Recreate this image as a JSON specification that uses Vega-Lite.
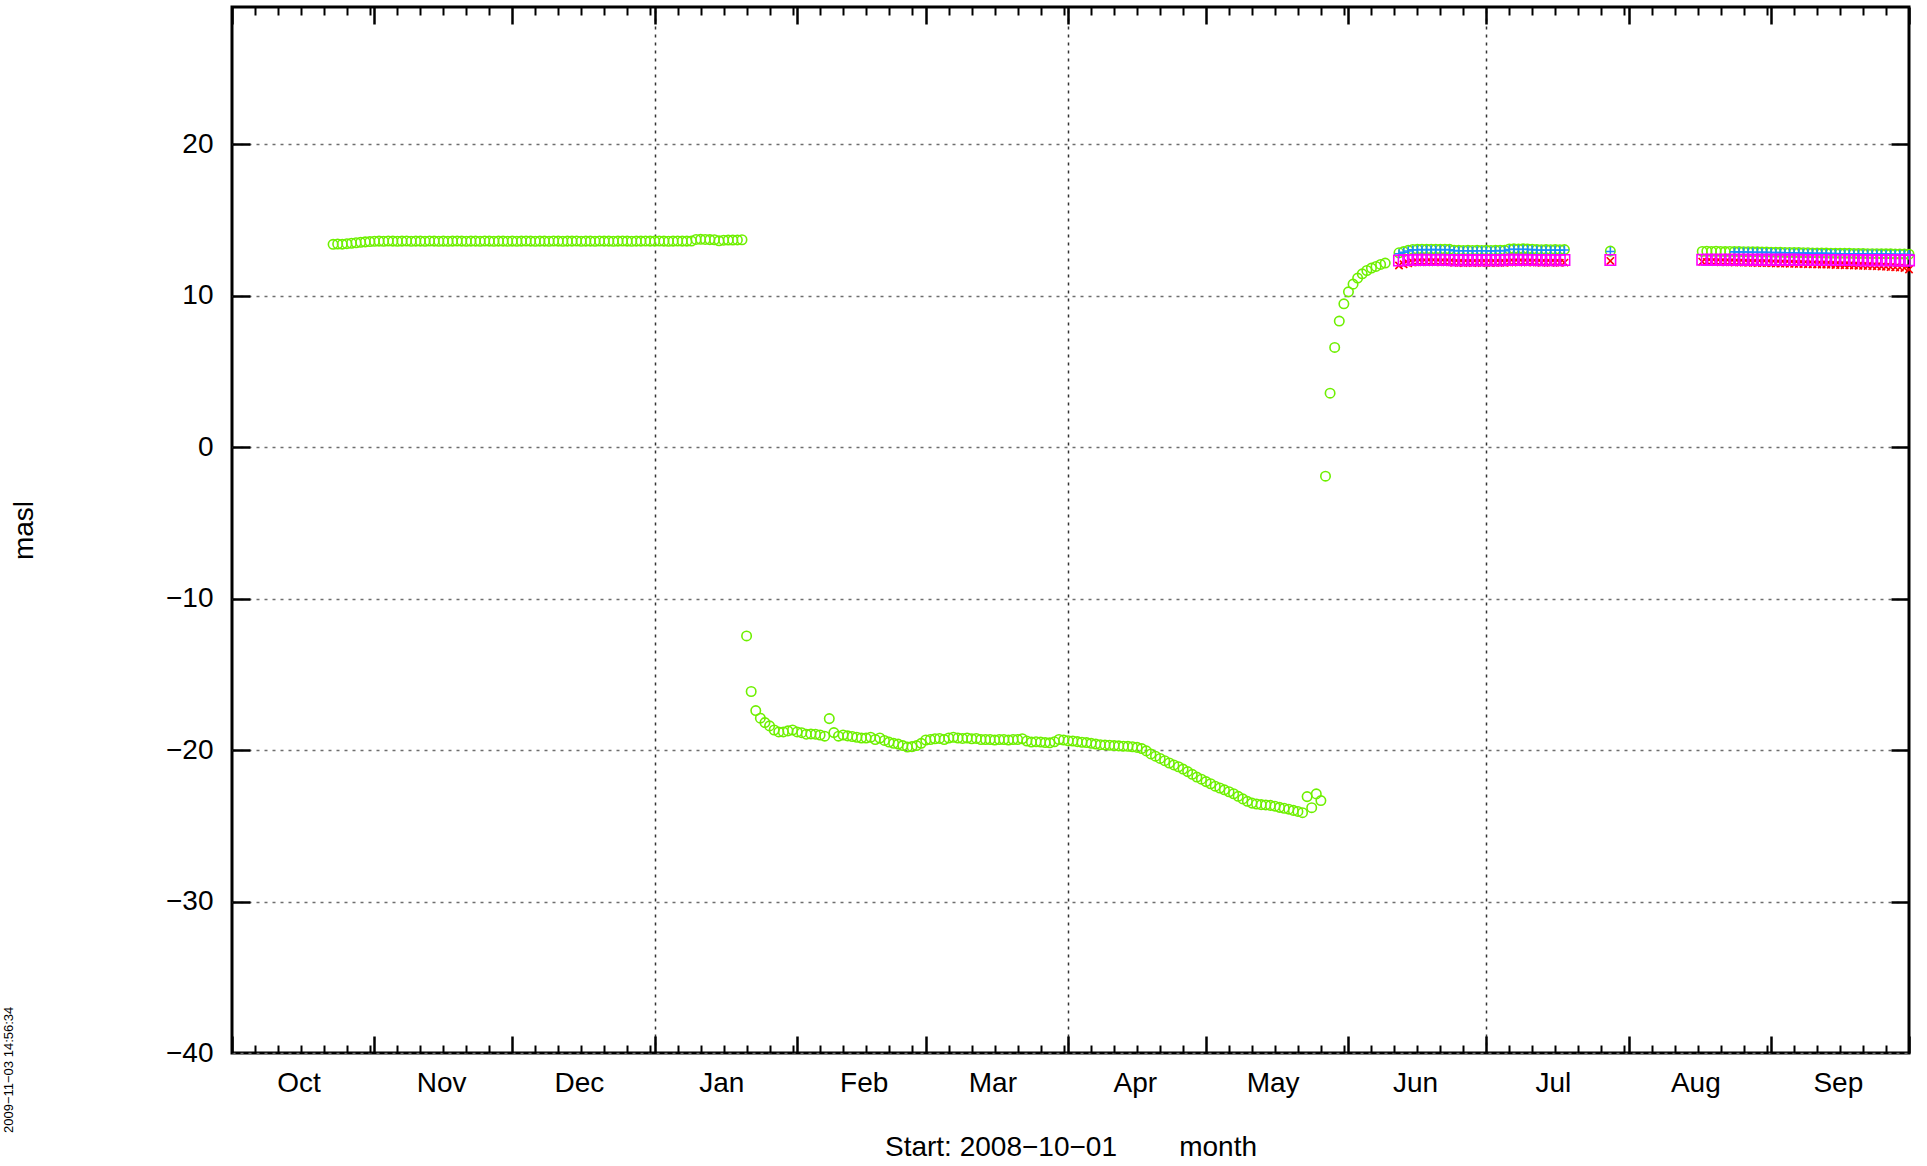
{
"$schema": "https://vega.github.io/schema/vega-lite/v6.json",
"width": 1677,
"height": 1046,
"autosize": {"type": "none"},
"padding": {"left": 232, "top": 7, "right": 18, "bottom": 113},
"background": "white",
"config": {
  "view": {"stroke": "black", "strokeWidth": 3},
  "font": "Liberation Sans",
  "axis": {"labelFont": "Liberation Sans", "titleFont": "Liberation Sans", "labelColor": "black", "titleColor": "black", "tickColor": "black", "labelFontSize": 28, "titleFontSize": 28, "titleFontWeight": "normal", "domain": false}
},
"title": {"text": "2009−11−03 14:56:34", "orient": "left", "anchor": "start", "frame": "group", "fontSize": 13, "fontWeight": "normal", "font": "Liberation Sans", "color": "black", "offset": -5, "dx": -80},
"data": {"values": [
{"d":"2008-10-23","s":"A","v":13.40},{"d":"2008-10-24","s":"A","v":13.42},{"d":"2008-10-25","s":"A","v":13.41},{"d":"2008-10-26","s":"A","v":13.44},{"d":"2008-10-27","s":"A","v":13.47},{"d":"2008-10-28","s":"A","v":13.50},{"d":"2008-10-29","s":"A","v":13.53},{"d":"2008-10-30","s":"A","v":13.56},{"d":"2008-10-31","s":"A","v":13.58},
{"d":"2008-11-01","s":"A","v":13.60},{"d":"2008-11-02","s":"A","v":13.61},{"d":"2008-11-03","s":"A","v":13.60},{"d":"2008-11-04","s":"A","v":13.62},{"d":"2008-11-05","s":"A","v":13.61},{"d":"2008-11-06","s":"A","v":13.60},{"d":"2008-11-07","s":"A","v":13.61},{"d":"2008-11-08","s":"A","v":13.62},{"d":"2008-11-09","s":"A","v":13.60},{"d":"2008-11-10","s":"A","v":13.61},
{"d":"2008-11-11","s":"A","v":13.61},{"d":"2008-11-12","s":"A","v":13.60},{"d":"2008-11-13","s":"A","v":13.62},{"d":"2008-11-14","s":"A","v":13.61},{"d":"2008-11-15","s":"A","v":13.60},{"d":"2008-11-16","s":"A","v":13.61},{"d":"2008-11-17","s":"A","v":13.60},{"d":"2008-11-18","s":"A","v":13.61},{"d":"2008-11-19","s":"A","v":13.62},{"d":"2008-11-20","s":"A","v":13.61},
{"d":"2008-11-21","s":"A","v":13.60},{"d":"2008-11-22","s":"A","v":13.61},{"d":"2008-11-23","s":"A","v":13.61},{"d":"2008-11-24","s":"A","v":13.60},{"d":"2008-11-25","s":"A","v":13.62},{"d":"2008-11-26","s":"A","v":13.61},{"d":"2008-11-27","s":"A","v":13.60},{"d":"2008-11-28","s":"A","v":13.61},{"d":"2008-11-29","s":"A","v":13.61},{"d":"2008-11-30","s":"A","v":13.60},
{"d":"2008-12-01","s":"A","v":13.61},{"d":"2008-12-02","s":"A","v":13.60},{"d":"2008-12-03","s":"A","v":13.61},{"d":"2008-12-04","s":"A","v":13.62},{"d":"2008-12-05","s":"A","v":13.61},{"d":"2008-12-06","s":"A","v":13.60},{"d":"2008-12-07","s":"A","v":13.61},{"d":"2008-12-08","s":"A","v":13.61},{"d":"2008-12-09","s":"A","v":13.60},{"d":"2008-12-10","s":"A","v":13.62},
{"d":"2008-12-11","s":"A","v":13.61},{"d":"2008-12-12","s":"A","v":13.60},{"d":"2008-12-13","s":"A","v":13.61},{"d":"2008-12-14","s":"A","v":13.61},{"d":"2008-12-15","s":"A","v":13.62},{"d":"2008-12-16","s":"A","v":13.60},{"d":"2008-12-17","s":"A","v":13.61},{"d":"2008-12-18","s":"A","v":13.61},{"d":"2008-12-19","s":"A","v":13.60},{"d":"2008-12-20","s":"A","v":13.62},
{"d":"2008-12-21","s":"A","v":13.61},{"d":"2008-12-22","s":"A","v":13.61},{"d":"2008-12-23","s":"A","v":13.60},{"d":"2008-12-24","s":"A","v":13.61},{"d":"2008-12-25","s":"A","v":13.62},{"d":"2008-12-26","s":"A","v":13.61},{"d":"2008-12-27","s":"A","v":13.60},{"d":"2008-12-28","s":"A","v":13.61},{"d":"2008-12-29","s":"A","v":13.61},{"d":"2008-12-30","s":"A","v":13.62},{"d":"2008-12-31","s":"A","v":13.61},
{"d":"2009-01-01","s":"A","v":13.61},{"d":"2009-01-02","s":"A","v":13.62},{"d":"2009-01-03","s":"A","v":13.61},{"d":"2009-01-04","s":"A","v":13.60},{"d":"2009-01-05","s":"A","v":13.61},{"d":"2009-01-06","s":"A","v":13.62},{"d":"2009-01-07","s":"A","v":13.61},{"d":"2009-01-08","s":"A","v":13.61},{"d":"2009-01-09","s":"A","v":13.62},
{"d":"2009-01-10","s":"A","v":13.72},{"d":"2009-01-11","s":"A","v":13.73},{"d":"2009-01-12","s":"A","v":13.72},{"d":"2009-01-13","s":"A","v":13.71},{"d":"2009-01-14","s":"A","v":13.70},{"d":"2009-01-15","s":"A","v":13.63},{"d":"2009-01-16","s":"A","v":13.67},{"d":"2009-01-17","s":"A","v":13.68},{"d":"2009-01-18","s":"A","v":13.68},{"d":"2009-01-19","s":"A","v":13.69},{"d":"2009-01-20","s":"A","v":13.70},
{"d":"2009-01-21","s":"A","v":-12.46},{"d":"2009-01-22","s":"A","v":-16.13},{"d":"2009-01-23","s":"A","v":-17.39},{"d":"2009-01-24","s":"A","v":-17.89},{"d":"2009-01-25","s":"A","v":-18.18},{"d":"2009-01-26","s":"A","v":-18.40},{"d":"2009-01-27","s":"A","v":-18.67},{"d":"2009-01-28","s":"A","v":-18.80},{"d":"2009-01-29","s":"A","v":-18.80},{"d":"2009-01-30","s":"A","v":-18.73},{"d":"2009-01-31","s":"A","v":-18.67},
{"d":"2009-02-01","s":"A","v":-18.80},{"d":"2009-02-02","s":"A","v":-18.85},{"d":"2009-02-03","s":"A","v":-18.95},{"d":"2009-02-04","s":"A","v":-18.93},{"d":"2009-02-05","s":"A","v":-18.95},{"d":"2009-02-06","s":"A","v":-19.00},{"d":"2009-02-07","s":"A","v":-19.08},{"d":"2009-02-08","s":"A","v":-17.92},{"d":"2009-02-09","s":"A","v":-18.84},{"d":"2009-02-10","s":"A","v":-19.08},
{"d":"2009-02-11","s":"A","v":-19.00},{"d":"2009-02-12","s":"A","v":-19.06},{"d":"2009-02-13","s":"A","v":-19.10},{"d":"2009-02-14","s":"A","v":-19.15},{"d":"2009-02-15","s":"A","v":-19.20},{"d":"2009-02-16","s":"A","v":-19.20},{"d":"2009-02-17","s":"A","v":-19.15},{"d":"2009-02-18","s":"A","v":-19.30},{"d":"2009-02-19","s":"A","v":-19.20},{"d":"2009-02-20","s":"A","v":-19.36},
{"d":"2009-02-21","s":"A","v":-19.47},{"d":"2009-02-22","s":"A","v":-19.55},{"d":"2009-02-23","s":"A","v":-19.60},{"d":"2009-02-24","s":"A","v":-19.70},{"d":"2009-02-25","s":"A","v":-19.80},{"d":"2009-02-26","s":"A","v":-19.77},{"d":"2009-02-27","s":"A","v":-19.70},{"d":"2009-02-28","s":"A","v":-19.55},
{"d":"2009-03-01","s":"A","v":-19.33},{"d":"2009-03-02","s":"A","v":-19.30},{"d":"2009-03-03","s":"A","v":-19.25},{"d":"2009-03-04","s":"A","v":-19.23},{"d":"2009-03-05","s":"A","v":-19.30},{"d":"2009-03-06","s":"A","v":-19.20},{"d":"2009-03-07","s":"A","v":-19.15},{"d":"2009-03-08","s":"A","v":-19.20},{"d":"2009-03-09","s":"A","v":-19.23},{"d":"2009-03-10","s":"A","v":-19.20},
{"d":"2009-03-11","s":"A","v":-19.25},{"d":"2009-03-12","s":"A","v":-19.23},{"d":"2009-03-13","s":"A","v":-19.30},{"d":"2009-03-14","s":"A","v":-19.30},{"d":"2009-03-15","s":"A","v":-19.30},{"d":"2009-03-16","s":"A","v":-19.33},{"d":"2009-03-17","s":"A","v":-19.30},{"d":"2009-03-18","s":"A","v":-19.30},{"d":"2009-03-19","s":"A","v":-19.33},{"d":"2009-03-20","s":"A","v":-19.30},
{"d":"2009-03-21","s":"A","v":-19.30},{"d":"2009-03-22","s":"A","v":-19.25},{"d":"2009-03-23","s":"A","v":-19.40},{"d":"2009-03-24","s":"A","v":-19.47},{"d":"2009-03-25","s":"A","v":-19.45},{"d":"2009-03-26","s":"A","v":-19.47},{"d":"2009-03-27","s":"A","v":-19.50},{"d":"2009-03-28","s":"A","v":-19.52},{"d":"2009-03-29","s":"A","v":-19.45},{"d":"2009-03-30","s":"A","v":-19.30},{"d":"2009-03-31","s":"A","v":-19.33},
{"d":"2009-04-01","s":"A","v":-19.38},{"d":"2009-04-02","s":"A","v":-19.40},{"d":"2009-04-03","s":"A","v":-19.44},{"d":"2009-04-04","s":"A","v":-19.48},{"d":"2009-04-05","s":"A","v":-19.50},{"d":"2009-04-06","s":"A","v":-19.55},{"d":"2009-04-07","s":"A","v":-19.60},{"d":"2009-04-08","s":"A","v":-19.64},{"d":"2009-04-09","s":"A","v":-19.66},{"d":"2009-04-10","s":"A","v":-19.68},
{"d":"2009-04-11","s":"A","v":-19.70},{"d":"2009-04-12","s":"A","v":-19.72},{"d":"2009-04-13","s":"A","v":-19.74},{"d":"2009-04-14","s":"A","v":-19.75},{"d":"2009-04-15","s":"A","v":-19.78},{"d":"2009-04-16","s":"A","v":-19.82},{"d":"2009-04-17","s":"A","v":-19.90},{"d":"2009-04-18","s":"A","v":-20.05},{"d":"2009-04-19","s":"A","v":-20.25},{"d":"2009-04-20","s":"A","v":-20.40},
{"d":"2009-04-21","s":"A","v":-20.55},{"d":"2009-04-22","s":"A","v":-20.70},{"d":"2009-04-23","s":"A","v":-20.85},{"d":"2009-04-24","s":"A","v":-20.98},{"d":"2009-04-25","s":"A","v":-21.10},{"d":"2009-04-26","s":"A","v":-21.25},{"d":"2009-04-27","s":"A","v":-21.42},{"d":"2009-04-28","s":"A","v":-21.60},{"d":"2009-04-29","s":"A","v":-21.78},{"d":"2009-04-30","s":"A","v":-21.92},
{"d":"2009-05-01","s":"A","v":-22.08},{"d":"2009-05-02","s":"A","v":-22.22},{"d":"2009-05-03","s":"A","v":-22.38},{"d":"2009-05-04","s":"A","v":-22.50},{"d":"2009-05-05","s":"A","v":-22.62},{"d":"2009-05-06","s":"A","v":-22.75},{"d":"2009-05-07","s":"A","v":-22.88},{"d":"2009-05-08","s":"A","v":-23.05},{"d":"2009-05-09","s":"A","v":-23.22},{"d":"2009-05-10","s":"A","v":-23.38},
{"d":"2009-05-11","s":"A","v":-23.50},{"d":"2009-05-12","s":"A","v":-23.56},{"d":"2009-05-13","s":"A","v":-23.60},{"d":"2009-05-14","s":"A","v":-23.62},{"d":"2009-05-15","s":"A","v":-23.65},{"d":"2009-05-16","s":"A","v":-23.70},{"d":"2009-05-17","s":"A","v":-23.78},{"d":"2009-05-18","s":"A","v":-23.84},{"d":"2009-05-19","s":"A","v":-23.90},{"d":"2009-05-20","s":"A","v":-23.98},
{"d":"2009-05-21","s":"A","v":-24.05},{"d":"2009-05-22","s":"A","v":-24.13},{"d":"2009-05-23","s":"A","v":-23.07},{"d":"2009-05-24","s":"A","v":-23.80},{"d":"2009-05-25","s":"A","v":-22.89},{"d":"2009-05-26","s":"A","v":-23.33},{"d":"2009-05-27","s":"A","v":-1.91},{"d":"2009-05-28","s":"A","v":3.57},{"d":"2009-05-29","s":"A","v":6.59},{"d":"2009-05-30","s":"A","v":8.33},{"d":"2009-05-31","s":"A","v":9.47},
{"d":"2009-06-01","s":"A","v":10.26},{"d":"2009-06-02","s":"A","v":10.77},{"d":"2009-06-03","s":"A","v":11.17},{"d":"2009-06-04","s":"A","v":11.45},{"d":"2009-06-05","s":"A","v":11.67},{"d":"2009-06-06","s":"A","v":11.83},{"d":"2009-06-07","s":"A","v":11.94},{"d":"2009-06-08","s":"A","v":12.07},{"d":"2009-06-09","s":"A","v":12.16},
{"d":"2009-06-12","s":"A","v":12.84},{"d":"2009-06-13","s":"A","v":12.92},{"d":"2009-06-14","s":"A","v":13.00},{"d":"2009-06-15","s":"A","v":13.06},{"d":"2009-06-16","s":"A","v":13.07},{"d":"2009-06-17","s":"A","v":13.08},{"d":"2009-06-18","s":"A","v":13.07},{"d":"2009-06-19","s":"A","v":13.08},{"d":"2009-06-20","s":"A","v":13.08},{"d":"2009-06-21","s":"A","v":13.07},
{"d":"2009-06-22","s":"A","v":13.08},{"d":"2009-06-23","s":"A","v":13.07},{"d":"2009-06-24","s":"A","v":13.01},{"d":"2009-06-25","s":"A","v":13.00},{"d":"2009-06-26","s":"A","v":12.99},{"d":"2009-06-27","s":"A","v":13.00},{"d":"2009-06-28","s":"A","v":12.99},{"d":"2009-06-29","s":"A","v":13.00},{"d":"2009-06-30","s":"A","v":12.99},
{"d":"2009-07-01","s":"A","v":13.00},{"d":"2009-07-02","s":"A","v":12.99},{"d":"2009-07-03","s":"A","v":13.00},{"d":"2009-07-04","s":"A","v":13.01},{"d":"2009-07-05","s":"A","v":13.00},{"d":"2009-07-06","s":"A","v":13.09},{"d":"2009-07-07","s":"A","v":13.10},{"d":"2009-07-08","s":"A","v":13.09},{"d":"2009-07-09","s":"A","v":13.10},{"d":"2009-07-10","s":"A","v":13.09},
{"d":"2009-07-11","s":"A","v":13.08},{"d":"2009-07-12","s":"A","v":13.05},{"d":"2009-07-13","s":"A","v":13.04},{"d":"2009-07-14","s":"A","v":13.05},{"d":"2009-07-15","s":"A","v":13.04},{"d":"2009-07-16","s":"A","v":13.05},{"d":"2009-07-17","s":"A","v":13.04},{"d":"2009-07-18","s":"A","v":13.05},
{"d":"2009-07-28","s":"A","v":12.95},
{"d":"2009-08-17","s":"A","v":12.93},{"d":"2009-08-18","s":"A","v":12.94},{"d":"2009-08-19","s":"A","v":12.93},{"d":"2009-08-20","s":"A","v":12.94},{"d":"2009-08-21","s":"A","v":12.93},{"d":"2009-08-22","s":"A","v":12.92},{"d":"2009-08-23","s":"A","v":12.93},{"d":"2009-08-24","s":"A","v":12.92},{"d":"2009-08-25","s":"A","v":12.92},{"d":"2009-08-26","s":"A","v":12.91},
{"d":"2009-08-27","s":"A","v":12.91},{"d":"2009-08-28","s":"A","v":12.90},{"d":"2009-08-29","s":"A","v":12.90},{"d":"2009-08-30","s":"A","v":12.89},{"d":"2009-08-31","s":"A","v":12.89},
{"d":"2009-09-01","s":"A","v":12.88},{"d":"2009-09-02","s":"A","v":12.87},{"d":"2009-09-03","s":"A","v":12.87},{"d":"2009-09-04","s":"A","v":12.86},{"d":"2009-09-05","s":"A","v":12.86},{"d":"2009-09-06","s":"A","v":12.85},{"d":"2009-09-07","s":"A","v":12.85},{"d":"2009-09-08","s":"A","v":12.84},{"d":"2009-09-09","s":"A","v":12.84},{"d":"2009-09-10","s":"A","v":12.83},
{"d":"2009-09-11","s":"A","v":12.83},{"d":"2009-09-12","s":"A","v":12.82},{"d":"2009-09-13","s":"A","v":12.82},{"d":"2009-09-14","s":"A","v":12.81},{"d":"2009-09-15","s":"A","v":12.81},{"d":"2009-09-16","s":"A","v":12.80},{"d":"2009-09-17","s":"A","v":12.80},{"d":"2009-09-18","s":"A","v":12.80},{"d":"2009-09-19","s":"A","v":12.79},{"d":"2009-09-20","s":"A","v":12.79},
{"d":"2009-09-21","s":"A","v":12.79},{"d":"2009-09-22","s":"A","v":12.78},{"d":"2009-09-23","s":"A","v":12.78},{"d":"2009-09-24","s":"A","v":12.78},{"d":"2009-09-25","s":"A","v":12.77},{"d":"2009-09-26","s":"A","v":12.77},{"d":"2009-09-27","s":"A","v":12.77},{"d":"2009-09-28","s":"A","v":12.76},{"d":"2009-09-29","s":"A","v":12.76},{"d":"2009-09-30","s":"A","v":12.76},{"d":"2009-10-01","s":"A","v":12.75},
{"d":"2009-06-12","s":"B","v":12.78},{"d":"2009-06-13","s":"B","v":12.88},{"d":"2009-06-14","s":"B","v":12.96},{"d":"2009-06-15","s":"B","v":13.03},{"d":"2009-06-16","s":"B","v":13.04},{"d":"2009-06-17","s":"B","v":13.05},{"d":"2009-06-18","s":"B","v":13.04},{"d":"2009-06-19","s":"B","v":13.05},{"d":"2009-06-20","s":"B","v":13.05},{"d":"2009-06-21","s":"B","v":13.04},
{"d":"2009-06-22","s":"B","v":13.05},{"d":"2009-06-23","s":"B","v":13.04},{"d":"2009-06-24","s":"B","v":12.98},{"d":"2009-06-25","s":"B","v":12.97},{"d":"2009-06-26","s":"B","v":12.97},{"d":"2009-06-27","s":"B","v":12.97},{"d":"2009-06-28","s":"B","v":12.96},{"d":"2009-06-29","s":"B","v":12.97},{"d":"2009-06-30","s":"B","v":12.97},
{"d":"2009-07-01","s":"B","v":12.97},{"d":"2009-07-02","s":"B","v":12.96},{"d":"2009-07-03","s":"B","v":12.97},{"d":"2009-07-04","s":"B","v":12.98},{"d":"2009-07-05","s":"B","v":12.97},{"d":"2009-07-06","s":"B","v":13.06},{"d":"2009-07-07","s":"B","v":13.07},{"d":"2009-07-08","s":"B","v":13.06},{"d":"2009-07-09","s":"B","v":13.07},{"d":"2009-07-10","s":"B","v":13.06},
{"d":"2009-07-11","s":"B","v":13.05},{"d":"2009-07-12","s":"B","v":13.02},{"d":"2009-07-13","s":"B","v":13.01},{"d":"2009-07-14","s":"B","v":13.02},{"d":"2009-07-15","s":"B","v":13.01},{"d":"2009-07-16","s":"B","v":13.02},{"d":"2009-07-17","s":"B","v":13.01},{"d":"2009-07-18","s":"B","v":13.02},
{"d":"2009-07-28","s":"B","v":12.93},
{"d":"2009-08-24","s":"B","v":12.90},{"d":"2009-08-25","s":"B","v":12.90},{"d":"2009-08-26","s":"B","v":12.89},{"d":"2009-08-27","s":"B","v":12.89},{"d":"2009-08-28","s":"B","v":12.88},{"d":"2009-08-29","s":"B","v":12.88},{"d":"2009-08-30","s":"B","v":12.87},{"d":"2009-08-31","s":"B","v":12.87},
{"d":"2009-09-01","s":"B","v":12.86},{"d":"2009-09-02","s":"B","v":12.85},{"d":"2009-09-03","s":"B","v":12.85},{"d":"2009-09-04","s":"B","v":12.84},{"d":"2009-09-05","s":"B","v":12.84},{"d":"2009-09-06","s":"B","v":12.83},{"d":"2009-09-07","s":"B","v":12.83},{"d":"2009-09-08","s":"B","v":12.82},{"d":"2009-09-09","s":"B","v":12.82},{"d":"2009-09-10","s":"B","v":12.81},
{"d":"2009-09-11","s":"B","v":12.81},{"d":"2009-09-12","s":"B","v":12.80},{"d":"2009-09-13","s":"B","v":12.80},{"d":"2009-09-14","s":"B","v":12.79},{"d":"2009-09-15","s":"B","v":12.79},{"d":"2009-09-16","s":"B","v":12.78},{"d":"2009-09-17","s":"B","v":12.78},{"d":"2009-09-18","s":"B","v":12.78},{"d":"2009-09-19","s":"B","v":12.77},{"d":"2009-09-20","s":"B","v":12.77},
{"d":"2009-09-21","s":"B","v":12.77},{"d":"2009-09-22","s":"B","v":12.76},{"d":"2009-09-23","s":"B","v":12.76},{"d":"2009-09-24","s":"B","v":12.76},{"d":"2009-09-25","s":"B","v":12.75},{"d":"2009-09-26","s":"B","v":12.75},{"d":"2009-09-27","s":"B","v":12.75},{"d":"2009-09-28","s":"B","v":12.74},{"d":"2009-09-29","s":"B","v":12.74},{"d":"2009-09-30","s":"B","v":12.74},{"d":"2009-10-01","s":"B","v":12.73},
{"d":"2009-06-12","s":"C","v":12.00},{"d":"2009-06-13","s":"C","v":12.08},{"d":"2009-06-14","s":"C","v":12.15},{"d":"2009-06-15","s":"C","v":12.20},{"d":"2009-06-16","s":"C","v":12.22},{"d":"2009-06-17","s":"C","v":12.21},{"d":"2009-06-18","s":"C","v":12.22},{"d":"2009-06-19","s":"C","v":12.23},{"d":"2009-06-20","s":"C","v":12.22},{"d":"2009-06-21","s":"C","v":12.21},
{"d":"2009-06-22","s":"C","v":12.22},{"d":"2009-06-23","s":"C","v":12.21},{"d":"2009-06-24","s":"C","v":12.18},{"d":"2009-06-25","s":"C","v":12.18},{"d":"2009-06-26","s":"C","v":12.17},{"d":"2009-06-27","s":"C","v":12.18},{"d":"2009-06-28","s":"C","v":12.17},{"d":"2009-06-29","s":"C","v":12.18},{"d":"2009-06-30","s":"C","v":12.17},
{"d":"2009-07-01","s":"C","v":12.18},{"d":"2009-07-02","s":"C","v":12.17},{"d":"2009-07-03","s":"C","v":12.18},{"d":"2009-07-04","s":"C","v":12.18},{"d":"2009-07-05","s":"C","v":12.18},{"d":"2009-07-06","s":"C","v":12.20},{"d":"2009-07-07","s":"C","v":12.21},{"d":"2009-07-08","s":"C","v":12.20},{"d":"2009-07-09","s":"C","v":12.21},{"d":"2009-07-10","s":"C","v":12.20},
{"d":"2009-07-11","s":"C","v":12.20},{"d":"2009-07-12","s":"C","v":12.19},{"d":"2009-07-13","s":"C","v":12.18},{"d":"2009-07-14","s":"C","v":12.19},{"d":"2009-07-15","s":"C","v":12.18},{"d":"2009-07-16","s":"C","v":12.19},{"d":"2009-07-17","s":"C","v":12.18},{"d":"2009-07-18","s":"C","v":12.19},
{"d":"2009-07-28","s":"C","v":12.30},
{"d":"2009-08-17","s":"C","v":12.25},{"d":"2009-08-18","s":"C","v":12.24},{"d":"2009-08-19","s":"C","v":12.24},{"d":"2009-08-20","s":"C","v":12.23},{"d":"2009-08-21","s":"C","v":12.22},{"d":"2009-08-22","s":"C","v":12.22},{"d":"2009-08-23","s":"C","v":12.21},{"d":"2009-08-24","s":"C","v":12.20},{"d":"2009-08-25","s":"C","v":12.20},{"d":"2009-08-26","s":"C","v":12.19},
{"d":"2009-08-27","s":"C","v":12.18},{"d":"2009-08-28","s":"C","v":12.18},{"d":"2009-08-29","s":"C","v":12.17},{"d":"2009-08-30","s":"C","v":12.16},{"d":"2009-08-31","s":"C","v":12.16},
{"d":"2009-09-01","s":"C","v":12.15},{"d":"2009-09-02","s":"C","v":12.14},{"d":"2009-09-03","s":"C","v":12.13},{"d":"2009-09-04","s":"C","v":12.13},{"d":"2009-09-05","s":"C","v":12.12},{"d":"2009-09-06","s":"C","v":12.11},{"d":"2009-09-07","s":"C","v":12.10},{"d":"2009-09-08","s":"C","v":12.10},{"d":"2009-09-09","s":"C","v":12.09},{"d":"2009-09-10","s":"C","v":12.08},
{"d":"2009-09-11","s":"C","v":12.07},{"d":"2009-09-12","s":"C","v":12.06},{"d":"2009-09-13","s":"C","v":12.06},{"d":"2009-09-14","s":"C","v":12.05},{"d":"2009-09-15","s":"C","v":12.04},{"d":"2009-09-16","s":"C","v":12.03},{"d":"2009-09-17","s":"C","v":12.02},{"d":"2009-09-18","s":"C","v":12.01},{"d":"2009-09-19","s":"C","v":12.00},{"d":"2009-09-20","s":"C","v":11.99},
{"d":"2009-09-21","s":"C","v":11.98},{"d":"2009-09-22","s":"C","v":11.97},{"d":"2009-09-23","s":"C","v":11.96},{"d":"2009-09-24","s":"C","v":11.95},{"d":"2009-09-25","s":"C","v":11.93},{"d":"2009-09-26","s":"C","v":11.92},{"d":"2009-09-27","s":"C","v":11.90},{"d":"2009-09-28","s":"C","v":11.88},{"d":"2009-09-29","s":"C","v":11.86},{"d":"2009-09-30","s":"C","v":11.84},{"d":"2009-10-01","s":"C","v":11.74},
{"d":"2009-06-12","s":"D","v":12.33},{"d":"2009-06-13","s":"D","v":12.35},{"d":"2009-06-14","s":"D","v":12.36},{"d":"2009-06-15","s":"D","v":12.36},{"d":"2009-06-16","s":"D","v":12.37},{"d":"2009-06-17","s":"D","v":12.36},{"d":"2009-06-18","s":"D","v":12.37},{"d":"2009-06-19","s":"D","v":12.36},{"d":"2009-06-20","s":"D","v":12.36},{"d":"2009-06-21","s":"D","v":12.37},
{"d":"2009-06-22","s":"D","v":12.36},{"d":"2009-06-23","s":"D","v":12.36},{"d":"2009-06-24","s":"D","v":12.35},{"d":"2009-06-25","s":"D","v":12.35},{"d":"2009-06-26","s":"D","v":12.36},{"d":"2009-06-27","s":"D","v":12.35},{"d":"2009-06-28","s":"D","v":12.35},{"d":"2009-06-29","s":"D","v":12.36},{"d":"2009-06-30","s":"D","v":12.35},
{"d":"2009-07-01","s":"D","v":12.35},{"d":"2009-07-02","s":"D","v":12.36},{"d":"2009-07-03","s":"D","v":12.35},{"d":"2009-07-04","s":"D","v":12.35},{"d":"2009-07-05","s":"D","v":12.36},{"d":"2009-07-06","s":"D","v":12.37},{"d":"2009-07-07","s":"D","v":12.37},{"d":"2009-07-08","s":"D","v":12.36},{"d":"2009-07-09","s":"D","v":12.37},{"d":"2009-07-10","s":"D","v":12.36},
{"d":"2009-07-11","s":"D","v":12.36},{"d":"2009-07-12","s":"D","v":12.36},{"d":"2009-07-13","s":"D","v":12.35},{"d":"2009-07-14","s":"D","v":12.36},{"d":"2009-07-15","s":"D","v":12.35},{"d":"2009-07-16","s":"D","v":12.36},{"d":"2009-07-17","s":"D","v":12.35},{"d":"2009-07-18","s":"D","v":12.36},
{"d":"2009-07-28","s":"D","v":12.36},
{"d":"2009-08-17","s":"D","v":12.38},{"d":"2009-08-18","s":"D","v":12.38},{"d":"2009-08-19","s":"D","v":12.38},{"d":"2009-08-20","s":"D","v":12.38},{"d":"2009-08-21","s":"D","v":12.38},{"d":"2009-08-22","s":"D","v":12.38},{"d":"2009-08-23","s":"D","v":12.38},{"d":"2009-08-24","s":"D","v":12.38},{"d":"2009-08-25","s":"D","v":12.38},{"d":"2009-08-26","s":"D","v":12.38},
{"d":"2009-08-27","s":"D","v":12.37},{"d":"2009-08-28","s":"D","v":12.37},{"d":"2009-08-29","s":"D","v":12.37},{"d":"2009-08-30","s":"D","v":12.37},{"d":"2009-08-31","s":"D","v":12.37},
{"d":"2009-09-01","s":"D","v":12.37},{"d":"2009-09-02","s":"D","v":12.37},{"d":"2009-09-03","s":"D","v":12.37},{"d":"2009-09-04","s":"D","v":12.37},{"d":"2009-09-05","s":"D","v":12.37},{"d":"2009-09-06","s":"D","v":12.37},{"d":"2009-09-07","s":"D","v":12.37},{"d":"2009-09-08","s":"D","v":12.36},{"d":"2009-09-09","s":"D","v":12.36},{"d":"2009-09-10","s":"D","v":12.36},
{"d":"2009-09-11","s":"D","v":12.36},{"d":"2009-09-12","s":"D","v":12.36},{"d":"2009-09-13","s":"D","v":12.36},{"d":"2009-09-14","s":"D","v":12.36},{"d":"2009-09-15","s":"D","v":12.36},{"d":"2009-09-16","s":"D","v":12.36},{"d":"2009-09-17","s":"D","v":12.36},{"d":"2009-09-18","s":"D","v":12.36},{"d":"2009-09-19","s":"D","v":12.36},{"d":"2009-09-20","s":"D","v":12.35},
{"d":"2009-09-21","s":"D","v":12.35},{"d":"2009-09-22","s":"D","v":12.35},{"d":"2009-09-23","s":"D","v":12.35},{"d":"2009-09-24","s":"D","v":12.35},{"d":"2009-09-25","s":"D","v":12.35},{"d":"2009-09-26","s":"D","v":12.35},{"d":"2009-09-27","s":"D","v":12.35},{"d":"2009-09-28","s":"D","v":12.35},{"d":"2009-09-29","s":"D","v":12.34},{"d":"2009-09-30","s":"D","v":12.34},{"d":"2009-10-01","s":"D","v":12.34}
]},
"layer": [
  {
    "mark": {"type": "point", "filled": false, "strokeWidth": 1.6, "size": 110, "opacity": 1},
    "encoding": {
      "x": {"field": "d", "type": "temporal",
        "scale": {"type": "utc", "domain": [{"year": 2008, "month": 10, "date": 1, "utc": true}, {"year": 2009, "month": 10, "date": 1, "utc": true}]},
        "axis": {"orient": "bottom", "values": {"expr": "[utc(2008,9,15,12),utc(2008,10,15,12),utc(2008,11,15,12),utc(2009,0,15,12),utc(2009,1,15,12),utc(2009,2,15,12),utc(2009,3,15,12),utc(2009,4,15,12),utc(2009,5,15,12),utc(2009,6,15,12),utc(2009,7,15,12),utc(2009,8,15,12)]"},
          "labelExpr": "utcFormat(datum.value, '%b')", "ticks": false, "grid": false, "labelPadding": 16, "labelOverlap": false, "labelFlush": false,
          "title": "Start: 2008−10−01\u00a0\u00a0\u00a0\u00a0\u00a0\u00a0\u00a0\u00a0month", "titlePadding": 36}},
      "y": {"field": "v", "type": "quantitative",
        "scale": {"domain": [-40, 29.07], "nice": false, "zero": false},
        "axis": {"orient": "left", "values": [-40, -30, -20, -10, 0, 10, 20], "ticks": false, "grid": true, "gridColor": "#6e6e6e", "gridDash": [3, 5], "gridWidth": 1.5, "labelPadding": 19, "title": "masl", "titlePadding": 127}},
      "color": {"field": "s", "type": "nominal", "scale": {"domain": ["A", "B", "C", "D"], "range": ["#6ef000", "#1a8cff", "#ff0000", "#ff00ff"]}, "legend": null},
      "shape": {"field": "s", "type": "nominal", "scale": {"domain": ["A", "B", "C", "D"], "range": ["M-0.9,0A0.9,0.9,0,1,1,0.9,0A0.9,0.9,0,1,1,-0.9,0Z", "M-0.85,0H0.85M0,-0.85V0.85", "M-0.7,-0.7L0.7,0.7M-0.7,0.7L0.7,-0.7", "M-1,-1H1V1H-1Z"]}, "legend": null}
    }
  },
  {
    "transform": [{"filter": "false"}],
    "mark": "point",
    "encoding": {
      "x": {"field": "d", "type": "temporal",
        "scale": {"type": "utc", "domain": [{"year": 2008, "month": 10, "date": 1, "utc": true}, {"year": 2009, "month": 10, "date": 1, "utc": true}]},
        "axis": {"orient": "bottom", "values": {"expr": "[utc(2008,9,1),utc(2008,10,1),utc(2008,11,1),utc(2009,0,1),utc(2009,1,1),utc(2009,2,1),utc(2009,3,1),utc(2009,4,1),utc(2009,5,1),utc(2009,6,1),utc(2009,7,1),utc(2009,8,1),utc(2009,9,1)]"},
          "labels": false, "ticks": true, "tickSize": -17, "tickWidth": 2.5, "grid": false, "title": null}},
      "y": {"field": "v", "type": "quantitative",
        "scale": {"domain": [-40, 29.07], "nice": false, "zero": false},
        "axis": {"orient": "left", "values": [-30, -20, -10, 0, 10, 20], "labels": false, "ticks": true, "tickSize": -18, "tickWidth": 2.5, "grid": false, "title": null}}
    }
  },
  {
    "transform": [{"filter": "false"}],
    "mark": "point",
    "encoding": {
      "x": {"field": "d", "type": "temporal",
        "scale": {"type": "utc", "domain": [{"year": 2008, "month": 10, "date": 1, "utc": true}, {"year": 2009, "month": 10, "date": 1, "utc": true}]},
        "axis": {"orient": "bottom", "values": {"expr": "[utc(2008,9,6),utc(2008,9,11),utc(2008,9,16),utc(2008,9,21),utc(2008,9,26),utc(2008,9,31),utc(2008,10,6),utc(2008,10,11),utc(2008,10,16),utc(2008,10,21),utc(2008,10,26),utc(2008,11,6),utc(2008,11,11),utc(2008,11,16),utc(2008,11,21),utc(2008,11,26),utc(2008,11,31),utc(2009,0,6),utc(2009,0,11),utc(2009,0,16),utc(2009,0,21),utc(2009,0,26),utc(2009,0,31),utc(2009,1,6),utc(2009,1,11),utc(2009,1,16),utc(2009,1,21),utc(2009,1,26),utc(2009,2,6),utc(2009,2,11),utc(2009,2,16),utc(2009,2,21),utc(2009,2,26),utc(2009,2,31),utc(2009,3,6),utc(2009,3,11),utc(2009,3,16),utc(2009,3,21),utc(2009,3,26),utc(2009,4,6),utc(2009,4,11),utc(2009,4,16),utc(2009,4,21),utc(2009,4,26),utc(2009,4,31),utc(2009,5,6),utc(2009,5,11),utc(2009,5,16),utc(2009,5,21),utc(2009,5,26),utc(2009,6,6),utc(2009,6,11),utc(2009,6,16),utc(2009,6,21),utc(2009,6,26),utc(2009,6,31),utc(2009,7,6),utc(2009,7,11),utc(2009,7,16),utc(2009,7,21),utc(2009,7,26),utc(2009,7,31),utc(2009,8,6),utc(2009,8,11),utc(2009,8,16),utc(2009,8,21),utc(2009,8,26)]"},
          "labels": false, "ticks": true, "tickSize": -8, "tickWidth": 2, "grid": false, "title": null}},
      "y": {"field": "v", "type": "quantitative",
        "scale": {"domain": [-40, 29.07], "nice": false, "zero": false},
        "axis": {"orient": "right", "values": [-30, -20, -10, 0, 10, 20], "labels": false, "ticks": true, "tickSize": -18, "tickWidth": 2.5, "grid": false, "title": null}}
    }
  },
  {
    "transform": [{"filter": "false"}],
    "mark": "point",
    "encoding": {
      "x": {"field": "d", "type": "temporal",
        "scale": {"type": "utc", "domain": [{"year": 2008, "month": 10, "date": 1, "utc": true}, {"year": 2009, "month": 10, "date": 1, "utc": true}]},
        "axis": {"orient": "top", "values": {"expr": "[utc(2008,9,1),utc(2008,10,1),utc(2008,11,1),utc(2009,0,1),utc(2009,1,1),utc(2009,2,1),utc(2009,3,1),utc(2009,4,1),utc(2009,5,1),utc(2009,6,1),utc(2009,7,1),utc(2009,8,1),utc(2009,9,1)]"},
          "labels": false, "ticks": true, "tickSize": -17, "tickWidth": 2.5, "grid": false, "title": null}}
    }
  },
  {
    "transform": [{"filter": "false"}],
    "mark": "point",
    "encoding": {
      "x": {"field": "d", "type": "temporal",
        "scale": {"type": "utc", "domain": [{"year": 2008, "month": 10, "date": 1, "utc": true}, {"year": 2009, "month": 10, "date": 1, "utc": true}]},
        "axis": {"orient": "top", "values": {"expr": "[utc(2008,9,6),utc(2008,9,11),utc(2008,9,16),utc(2008,9,21),utc(2008,9,26),utc(2008,9,31),utc(2008,10,6),utc(2008,10,11),utc(2008,10,16),utc(2008,10,21),utc(2008,10,26),utc(2008,11,6),utc(2008,11,11),utc(2008,11,16),utc(2008,11,21),utc(2008,11,26),utc(2008,11,31),utc(2009,0,6),utc(2009,0,11),utc(2009,0,16),utc(2009,0,21),utc(2009,0,26),utc(2009,0,31),utc(2009,1,6),utc(2009,1,11),utc(2009,1,16),utc(2009,1,21),utc(2009,1,26),utc(2009,2,6),utc(2009,2,11),utc(2009,2,16),utc(2009,2,21),utc(2009,2,26),utc(2009,2,31),utc(2009,3,6),utc(2009,3,11),utc(2009,3,16),utc(2009,3,21),utc(2009,3,26),utc(2009,4,6),utc(2009,4,11),utc(2009,4,16),utc(2009,4,21),utc(2009,4,26),utc(2009,4,31),utc(2009,5,6),utc(2009,5,11),utc(2009,5,16),utc(2009,5,21),utc(2009,5,26),utc(2009,6,6),utc(2009,6,11),utc(2009,6,16),utc(2009,6,21),utc(2009,6,26),utc(2009,6,31),utc(2009,7,6),utc(2009,7,11),utc(2009,7,16),utc(2009,7,21),utc(2009,7,26),utc(2009,7,31),utc(2009,8,6),utc(2009,8,11),utc(2009,8,16),utc(2009,8,21),utc(2009,8,26)]"},
          "labels": false, "ticks": true, "tickSize": -8, "tickWidth": 2, "grid": false, "title": null}}
    }
  },
  {
    "transform": [{"filter": "false"}],
    "mark": "point",
    "encoding": {
      "x": {"field": "d", "type": "temporal",
        "scale": {"type": "utc", "domain": [{"year": 2008, "month": 10, "date": 1, "utc": true}, {"year": 2009, "month": 10, "date": 1, "utc": true}]},
        "axis": {"orient": "bottom", "values": {"expr": "[utc(2009,0,1),utc(2009,3,1),utc(2009,6,1)]"},
          "labels": false, "ticks": false, "grid": true, "gridColor": "#333333", "gridDash": [3, 5], "gridWidth": 1.5, "title": null}}
    }
  }
],
"resolve": {"axis": {"x": "independent", "y": "independent"}}
}
